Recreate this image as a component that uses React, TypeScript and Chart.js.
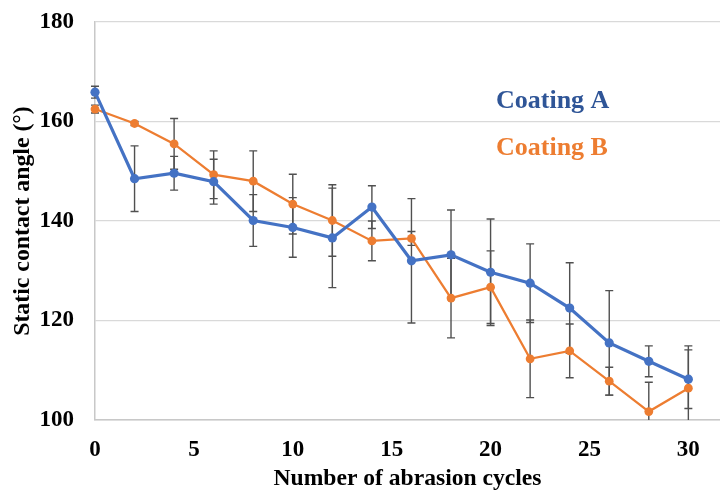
import React, { useEffect, useRef } from "react";
import { Chart, registerables } from "chart.js";

Chart.register(...registerables);

const cycles = [0, 2, 4, 6, 8, 10, 12, 14, 16, 18, 20, 22, 24, 26, 28, 30];
const coatingA = [165.9, 148.5, 149.6, 147.9, 140.1, 138.7, 136.6, 142.8, 132.0, 133.2, 129.7, 127.5, 122.5, 115.5, 111.8, 108.2];
const coatingAErr = [1.2, 6.6, 3.4, 4.5, 5.2, 6.0, 10.0, 4.3, 12.5, 9.0, 10.7, 7.9, 9.1, 10.5, 3.1, 5.9];
const coatingB = [162.5, 159.6, 155.5, 149.3, 148.0, 143.4, 140.1, 136.0, 136.5, 124.5, 126.7, 112.3, 113.9, 107.8, 101.7, 106.4];
const coatingBErr = [0.8, 0.4, 5.1, 4.8, 6.1, 6.0, 7.2, 4.0, 1.4, 8.0, 7.3, 7.8, 5.4, 2.8, 5.9, 8.5];
const seriesNames = ["Coating A", "Coating B"];
const xTickValues = [0, 5, 10, 15, 20, 25, 30];
const xTitle = "Number of abrasion cycles";
const yTitle = "Static contact angle (°)";

const FONT = "'Liberation Serif', 'Times New Roman', serif";

const errorBarPlugin = {
  id: "errorBars",
  beforeDatasetsDraw(chart: any) {
    const { ctx, chartArea, scales } = chart;
    const x = scales.x;
    const y = scales.y;
    ctx.save();
    ctx.beginPath();
    ctx.rect(chartArea.left - 10, chartArea.top, chartArea.right - chartArea.left + 10, chartArea.bottom - chartArea.top);
    ctx.clip();
    ctx.strokeStyle = "#505050";
    ctx.lineWidth = 1.4;
    chart.data.datasets.forEach((ds: any) => {
      const errs: number[] = ds.errors;
      ds.data.forEach((pt: any, i: number) => {
        const px = x.getPixelForValue(pt.x);
        const top = y.getPixelForValue(pt.y + errs[i]);
        const bot = y.getPixelForValue(pt.y - errs[i]);
        ctx.beginPath();
        ctx.moveTo(px, top);
        ctx.lineTo(px, bot);
        ctx.moveTo(px - 4, top);
        ctx.lineTo(px + 4, top);
        ctx.moveTo(px - 4, bot);
        ctx.lineTo(px + 4, bot);
        ctx.stroke();
      });
    });
    ctx.restore();
  },
};

const legendTextPlugin = {
  id: "legendText",
  afterDraw(chart: any) {
    const { ctx, chartArea } = chart;
    ctx.save();
    ctx.font = `bold 26px ${FONT}`;
    ctx.textAlign = "left";
    ctx.textBaseline = "middle";
    const lx = chartArea.left + 401;
    ctx.fillStyle = "#2F5597";
    ctx.fillText(seriesNames[0], lx, chartArea.top + 79);
    ctx.fillStyle = "#ED7D31";
    ctx.fillText(seriesNames[1], lx, chartArea.top + 126);
    ctx.restore();
  },
};

export default function App() {
  const canvasRef = useRef<HTMLCanvasElement | null>(null);

  useEffect(() => {
    if (!canvasRef.current) return;
    const chart = new Chart(canvasRef.current, {
      type: "line",
      data: {
        datasets: [
          {
            label: seriesNames[0],
            data: cycles.map((c, i) => ({ x: c, y: coatingA[i] })),
            errors: coatingAErr,
            borderColor: "#4472C4",
            backgroundColor: "#4472C4",
            borderWidth: 3.2,
            pointRadius: 4.6,
            pointBorderWidth: 0,
            tension: 0,
            clip: 8,
          } as any,
          {
            label: seriesNames[1],
            data: cycles.map((c, i) => ({ x: c, y: coatingB[i] })),
            errors: coatingBErr,
            borderColor: "#ED7D31",
            backgroundColor: "#ED7D31",
            borderWidth: 2.25,
            pointRadius: 4.4,
            pointBorderWidth: 0,
            tension: 0,
            clip: 8,
          } as any,
        ],
      },
      options: {
        animation: false,
        responsive: true,
        maintainAspectRatio: false,
        layout: { autoPadding: false, padding: { top: 22, right: 0, left: 0, bottom: 0 } },
        plugins: {
          legend: { display: false },
          tooltip: { enabled: false },
        },
        scales: {
          x: {
            type: "linear",
            min: 0,
            max: 31.6,
            afterBuildTicks: (scale: any) => {
              scale.ticks = xTickValues.map((v) => ({ value: v }));
            },
            afterFit: (scale: any) => {
              scale.height = 73;
              scale.paddingLeft = 0;
              scale.paddingRight = 0;
            },
            grid: { display: false, drawTicks: false },
            border: { display: true, color: "#c8c8c8", width: 1.5 },
            ticks: {
              color: "#000",
              padding: 16,
              font: { family: FONT, size: 23, weight: "bold" },
              maxRotation: 0,
            },
            title: {
              display: true,
              text: xTitle,
              color: "#000",
              font: { family: FONT, size: 23.6, weight: "bold" },
              padding: { top: 0, bottom: 0 },
            },
          },
          y: {
            type: "linear",
            min: 100,
            max: 180,
            afterFit: (scale: any) => {
              scale.width = 95;
              scale.paddingTop = 0;
              scale.paddingBottom = 0;
            },
            grid: { color: "#d9d9d9", lineWidth: 1.3, drawTicks: false },
            border: { display: true, color: "#c8c8c8", width: 1.5 },
            ticks: {
              stepSize: 20,
              color: "#000",
              padding: 21,
              font: { family: FONT, size: 23, weight: "bold" },
            },
            title: {
              display: true,
              text: yTitle,
              color: "#000",
              font: { family: FONT, size: 23.8, weight: "bold" },
              padding: { top: 9, bottom: 0 },
            },
          },
        },
      } as any,
      plugins: [errorBarPlugin, legendTextPlugin],
    });
    return () => chart.destroy();
  }, []);

  return (
    <div style={{ position: "absolute", left: 0, top: 0, width: 720, height: 493, background: "#fff" }}>
      <canvas ref={canvasRef} />
    </div>
  );
}
